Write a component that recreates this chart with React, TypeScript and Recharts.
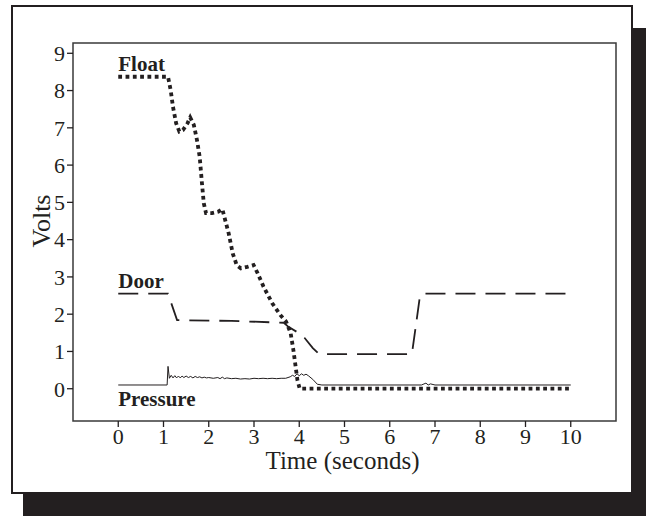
import { LineChart, Line, XAxis, YAxis, ReferenceArea, ReferenceDot } from 'recharts'

const INK = '#231f20'
const FONT = '"Liberation Serif", "Times New Roman", serif'

const xTicks = [0, 1, 2, 3, 4, 5, 6, 7, 8, 9, 10]
const yTicks = [0, 1, 2, 3, 4, 5, 6, 7, 8, 9]

// [time (s), volts]
const floatPts = [
  [0, 8.37], [1.1, 8.37], [1.16, 8.0], [1.21, 7.56], [1.28, 7.12], [1.35, 6.9],
  [1.43, 6.94], [1.53, 7.12], [1.59, 7.28], [1.67, 7.08], [1.74, 6.67], [1.8, 6.22],
  [1.85, 5.51], [1.89, 4.98], [1.94, 4.71], [2.07, 4.71], [2.21, 4.75], [2.3, 4.82],
  [2.44, 4.17], [2.53, 3.63], [2.62, 3.31], [2.71, 3.23], [2.85, 3.27], [2.99, 3.32],
  [3.08, 3.1], [3.21, 2.74], [3.4, 2.3], [3.58, 1.98], [3.71, 1.8], [3.81, 1.49],
  [3.87, 1.04], [3.92, 0.59], [3.96, 0.23], [4.01, 0], [10, 0],
]

const doorPts = [
  [0, 2.55], [1.1, 2.55], [1.3, 1.84], [2.5, 1.82], [3.66, 1.77], [3.76, 1.66],
  [3.94, 1.53], [4.12, 1.36], [4.3, 1.09], [4.44, 0.93], [6.49, 0.93], [6.67, 2.51],
  [6.76, 2.55], [10, 2.55],
]

const pressurePts = [
  [0, 0.1], [1.08, 0.1], [1.1, 0.6], [1.13, 0.28], [1.17, 0.36], [1.21, 0.29],
  [1.25, 0.35], [1.29, 0.29], [1.33, 0.34], [1.37, 0.29], [1.41, 0.34], [1.45, 0.3],
  [1.5, 0.34], [1.55, 0.3], [1.6, 0.33], [1.65, 0.29], [1.7, 0.33], [1.75, 0.3],
  [1.8, 0.32], [1.85, 0.29], [1.9, 0.31], [1.95, 0.29], [2.0, 0.3], [2.1, 0.28],
  [2.2, 0.3], [2.25, 0.27], [2.3, 0.31], [2.35, 0.27], [2.4, 0.29], [2.5, 0.27],
  [2.6, 0.28], [2.7, 0.26], [2.8, 0.27], [2.9, 0.26], [3.0, 0.28], [3.1, 0.27],
  [3.2, 0.28], [3.3, 0.27], [3.4, 0.28], [3.5, 0.27], [3.6, 0.28], [3.7, 0.28],
  [3.8, 0.32], [3.85, 0.36], [3.9, 0.33], [3.95, 0.4], [4.0, 0.35], [4.05, 0.4],
  [4.1, 0.36], [4.15, 0.39], [4.2, 0.35], [4.3, 0.25], [4.4, 0.12], [4.5, 0.1],
  [6.7, 0.1], [6.8, 0.15], [6.85, 0.1], [6.9, 0.13], [7.0, 0.1], [10, 0.1],
]

const seriesLabels = [
  { name: 'Float', t: 0, v: 8.52 },
  { name: 'Door', t: 0, v: 2.7 },
  { name: 'Pressure', t: 0, v: -0.46 },
]

const toRows = (pts: number[][]) => pts.map(([t, v]) => ({ t, v }))

export default function App() {
  return (
    <div style={{ position: 'absolute', left: 0, top: 0, width: 646, height: 516, overflow: 'hidden' }}>
      <div style={{ position: 'absolute', left: 23, top: 28, width: 623, height: 488, background: INK }} />
      <div
        style={{
          position: 'absolute', left: 11, top: 5, width: 622, height: 489,
          background: '#fff', border: `2px solid ${INK}`, boxSizing: 'border-box',
        }}
      />
      <div style={{ position: 'absolute', left: 0, top: 0 }}>
        <LineChart width={646} height={516} margin={{ top: 43, right: 30, bottom: 0, left: 0 }}>
          <XAxis
            type="number"
            dataKey="t"
            domain={[-1, 11]}
            ticks={xTicks}
            allowDataOverflow
            height={95}
            axisLine={false}
            tickLine={{ stroke: INK, strokeWidth: 1.3 }}
            tickSize={6}
            tickMargin={1}
            tick={{ fill: INK, fontSize: 22, fontFamily: FONT }}
            label={{
              content: ({ viewBox }: any) => (
                <text
                  x={viewBox.x + viewBox.width / 2 - 2}
                  y={viewBox.y + 48}
                  textAnchor="middle"
                  fill={INK}
                  fontSize={25}
                  fontFamily={FONT}
                >
                  Time (seconds)
                </text>
              ),
            }}
          />
          <YAxis
            type="number"
            domain={[-0.866, 9.276]}
            ticks={yTicks}
            allowDataOverflow
            width={73}
            axisLine={false}
            tickLine={{ stroke: INK, strokeWidth: 1.3 }}
            tickSize={6}
            tickMargin={2}
            tick={{ fill: INK, fontSize: 22, fontFamily: FONT }}
            label={{
              content: () => (
                <text
                  transform="translate(50, 221) rotate(-90)"
                  textAnchor="middle"
                  fill={INK}
                  fontSize={26}
                  fontFamily={FONT}
                >
                  Volts
                </text>
              ),
            }}
          />
          <ReferenceArea
            x1={-1}
            x2={11}
            y1={-0.866}
            y2={9.276}
            fill="none"
            fillOpacity={0}
            stroke="#3a3a3a"
            strokeWidth={1.5}
          />
          <Line
            data={toRows(pressurePts)}
            dataKey="v"
            type="linear"
            stroke={INK}
            strokeWidth={1}
            dot={false}
            isAnimationActive={false}
          />
          <Line
            data={toRows(doorPts)}
            dataKey="v"
            type="linear"
            stroke={INK}
            strokeWidth={1.8}
            strokeDasharray="20 10"
            dot={false}
            isAnimationActive={false}
          />
          <Line
            data={toRows(floatPts)}
            dataKey="v"
            type="linear"
            stroke={INK}
            strokeWidth={3.8}
            strokeDasharray="3.8 3.5"
            dot={false}
            isAnimationActive={false}
          />
          {seriesLabels.map((s) => (
            <ReferenceDot
              key={s.name}
              x={s.t}
              y={s.v}
              r={1}
              shape={(p: any) => (
                <text x={p.cx} y={p.cy} fill={INK} fontSize={21} fontWeight="bold" fontFamily={FONT}>
                  {s.name}
                </text>
              )}
            />
          ))}
        </LineChart>
      </div>
    </div>
  )
}
